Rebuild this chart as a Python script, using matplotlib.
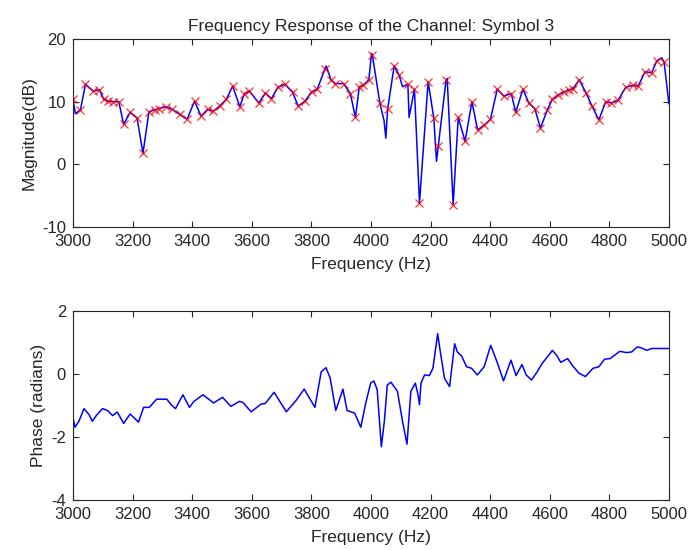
import matplotlib
matplotlib.use('Agg')
import matplotlib.pyplot as plt

# magnitude samples (red x): Hz, dB
mark_f = [3000, 3025, 3042, 3067, 3089, 3103, 3118, 3134, 3154, 3170, 3192, 3215, 3235,
          3255, 3274, 3288, 3311, 3333, 3358, 3383, 3408, 3430, 3452, 3471, 3492, 3515,
          3536, 3560, 3575, 3592, 3624, 3646, 3666, 3688, 3711, 3737, 3756, 3779, 3801,
          3820, 3846, 3866, 3880, 3908, 3931, 3948, 3961, 3974, 3993, 4005, 4030, 4056,
          4078, 4095, 4124, 4146, 4163, 4192, 4211, 4226, 4252, 4276, 4293, 4316, 4339,
          4358, 4381, 4401, 4424, 4446, 4471, 4486, 4510, 4530, 4550, 4569, 4592, 4609,
          4629, 4649, 4666, 4679, 4699, 4722, 4742, 4765, 4788, 4807, 4829, 4855, 4878,
          4897, 4920, 4942, 4959, 4984]
mark_db = [10.4, 8.7, 12.8, 11.7, 11.9, 10.4, 10.1, 10.0, 10.0, 6.4, 8.3, 7.4, 1.8,
           8.4, 8.7, 8.9, 9.2, 8.8, 8.0, 7.2, 10.1, 7.7, 8.8, 8.5, 9.3, 10.4,
           12.5, 9.2, 11.3, 11.7, 9.8, 11.4, 10.5, 12.3, 12.8, 11.5, 9.3, 10.1, 11.6,
           12.0, 15.3, 13.5, 12.9, 12.9, 11.3, 7.5, 12.4, 12.6, 13.5, 17.4, 9.8, 8.8,
           15.7, 14.2, 12.8, 12.0, -6.1, 13.2, 7.4, 2.9, 13.4, -6.4, 7.5, 3.7, 10.0,
           5.5, 6.3, 7.2, 12.0, 10.9, 11.3, 8.3, 12.0, 9.8, 8.9, 5.8, 8.7, 10.4,
           11.1, 11.6, 11.9, 12.1, 13.5, 11.4, 9.3, 7.1, 10.0, 9.8, 10.2, 12.3, 12.6,
           12.5, 14.8, 14.6, 16.5, 16.3]

# extra points the blue curve passes through between the samples
extra_f = [3008, 3850, 4002, 4044, 4050, 4106, 4128, 4220, 4256, 4976, 5000]
extra_db = [8.1, 15.7, 17.7, 7.0, 4.2, 12.4, 7.5, 0.5, 13.7, 17.0, 9.7]

# phase curve: Hz, radians
ph_f = [3000, 3007, 3020, 3037, 3054, 3065, 3079, 3099, 3116, 3133, 3149, 3170, 3192,
        3220, 3237, 3256, 3281, 3315, 3329, 3344, 3369, 3391, 3406, 3436, 3472, 3502,
        3530, 3558, 3570, 3598, 3632, 3645, 3675, 3716, 3748, 3776, 3812, 3833, 3849,
        3863, 3882, 3906, 3920, 3945, 3955, 3966, 3982, 3999, 4010, 4021, 4035, 4045,
        4055, 4067, 4089, 4106, 4121, 4134, 4149, 4157, 4163, 4168, 4180, 4196, 4208,
        4224, 4233, 4247, 4264, 4281, 4290, 4304, 4321, 4338, 4357, 4380, 4402, 4423,
        4445, 4470, 4487, 4507, 4521, 4539, 4558, 4575, 4592, 4609, 4623, 4637, 4660,
        4677, 4699, 4720, 4745, 4765, 4784, 4803, 4835, 4858, 4875, 4894, 4908, 4925,
        4942, 5000]
ph_rad = [-1.39, -1.69, -1.50, -1.10, -1.29, -1.50, -1.31, -1.10, -1.16, -1.32, -1.21, -1.57, -1.27,
          -1.53, -1.06, -1.06, -0.80, -0.80, -0.97, -1.10, -0.66, -1.06, -0.87, -0.66, -0.92, -0.74,
          -1.03, -0.87, -0.90, -1.20, -0.95, -0.94, -0.58, -1.20, -0.85, -0.48, -1.06, 0.07, 0.20,
          -0.12, -1.16, -0.48, -1.16, -1.24, -1.45, -1.69, -0.95, -0.29, -0.22, -0.50, -2.31, -1.50,
          -0.35, -0.26, -0.55, -1.50, -2.23, -0.55, -0.29, -0.61, -0.97, -0.29, -0.03, -0.05, 0.18,
          1.28, 0.70, -0.14, -0.40, 0.96, 0.70, 0.58, 0.23, 0.18, -0.03, 0.23, 0.91, 0.39,
          -0.22, 0.44, -0.05, 0.30, -0.03, -0.19, 0.07, 0.34, 0.54, 0.75, 0.60, 0.37, 0.49,
          0.26, 0.02, -0.08, 0.18, 0.23, 0.47, 0.49, 0.72, 0.68, 0.70, 0.86, 0.83, 0.75,
          0.81, 0.81]

xticks = [3000, 3200, 3400, 3600, 3800, 4000, 4200, 4400, 4600, 4800, 5000]

line = sorted(zip(mark_f + extra_f, mark_db + extra_db))
line_f = [p[0] for p in line]
line_db = [p[1] for p in line]

plt.rcParams['font.family'] = ['Liberation Sans', 'DejaVu Sans']
plt.rcParams['font.size'] = 12
plt.rcParams['text.color'] = '#262626'
plt.rcParams['axes.labelcolor'] = '#262626'
plt.rcParams['axes.unicode_minus'] = False

fig = plt.figure(figsize=(6.91, 5.5), dpi=100)
ax1 = fig.add_axes([0.1056, 0.587, 0.8624, 0.342])
ax2 = fig.add_axes([0.1056, 0.091, 0.8624, 0.3435])

ax1.plot(line_f, line_db, color='blue', lw=1.1)
ax1.plot(mark_f, mark_db, 'x', color='red', ms=6, mew=0.9, alpha=0.8)
ax1.set_xlim(3000, 5000)
ax1.set_ylim(-10, 20)
ax1.set_yticks([-10, 0, 10, 20])
ax1.set_xlabel('Frequency (Hz)', fontsize=12.5, labelpad=6)
ax1.set_ylabel('Magnitude(dB)', fontsize=12.5)
ax1.set_title('Frequency Response of the Channel: Symbol 3', fontsize=12.5, pad=6)

ax2.plot(ph_f, ph_rad, color='blue', lw=1.1)
ax2.set_xlim(3000, 5000)
ax2.set_ylim(-4, 2)
ax2.set_yticks([-4, -2, 0, 2])
ax2.set_xlabel('Frequency (Hz)', fontsize=12.5, labelpad=6)
ax2.set_ylabel('Phase (radians)', fontsize=12.5)

for ax in (ax1, ax2):
    ax.set_xticks(xticks)
    ax.tick_params(direction='in', top=True, right=True, length=4, labelsize=12,
                   color='#262626', labelcolor='#262626', pad=5)
    for s in ax.spines.values():
        s.set_linewidth(0.8)
        s.set_color('#262626')

fig.savefig('out.png', dpi=100)
